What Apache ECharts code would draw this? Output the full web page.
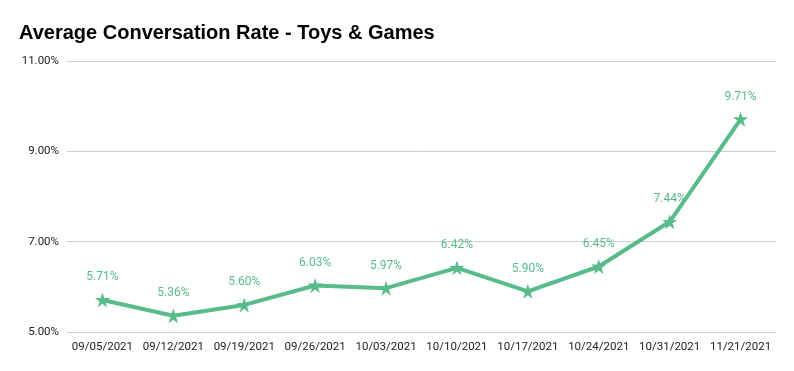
<!DOCTYPE html>
<html><head><meta charset="utf-8">
<script src="https://cdn.jsdelivr.net/npm/echarts@6/dist/echarts.min.js"></script>
<style>html,body{margin:0;padding:0;background:#fff}#c{width:794px;height:371px}</style>
</head><body><div id="c"></div>
<script>
const categories = ['09/05/2021','09/12/2021','09/19/2021','09/26/2021','10/03/2021','10/10/2021','10/17/2021','10/24/2021','10/31/2021','11/21/2021'];
const rates = [5.71, 5.36, 5.60, 6.03, 5.97, 6.42, 5.90, 6.45, 7.44, 9.71];
const yTicks = [5, 7, 9, 11];
const title = 'Average Conversation Rate - Toys & Games';

const star = 'path://M50,0 L61.8,35.4 L100,35.4 L69.1,57.3 L80.9,95.1 L50,72.4 L19.1,95.1 L30.9,57.3 L0,35.4 L38.2,35.4 Z';
const chart = echarts.init(document.getElementById('c'));
chart.setOption({
  animation: false,
  title: { text: title, left: 14, top: 18, textStyle: { fontFamily: 'Liberation Sans, Arial', fontWeight: 'bold', fontSize: 20, color: '#000' } },
  grid: { left: 67, right: 18, top: 61, bottom: 39 },
  xAxis: {
    type: 'category', data: categories, boundaryGap: true,
    axisLine: { show: false }, axisTick: { show: false },
    axisLabel: { color: '#222', fontFamily: 'Roboto', fontSize: 11.5, margin: 9, interval: 0 }
  },
  yAxis: {
    type: 'value', min: yTicks[0], max: yTicks[yTicks.length-1], interval: 2,
    axisLine: { show: false }, axisTick: { show: false },
    axisLabel: { color: '#222', fontFamily: 'Roboto', fontSize: 11.5, margin: 8, formatter: v => v.toFixed(2) + '%' },
    splitLine: { lineStyle: { color: '#cccccc', width: 1 } }
  },
  series: [{
    type: 'line', data: rates,
    lineStyle: { color: '#57bb8a', width: 4 },
    itemStyle: { color: '#57bb8a' },
    symbol: star, symbolSize: 15, showAllSymbol: true,
    label: { show: true, position: 'top', distance: 9, color: '#57bb8a', fontFamily: 'Roboto', fontSize: 12, formatter: p => p.value.toFixed(2) + '%' }
  }]
});
</script></body></html>
